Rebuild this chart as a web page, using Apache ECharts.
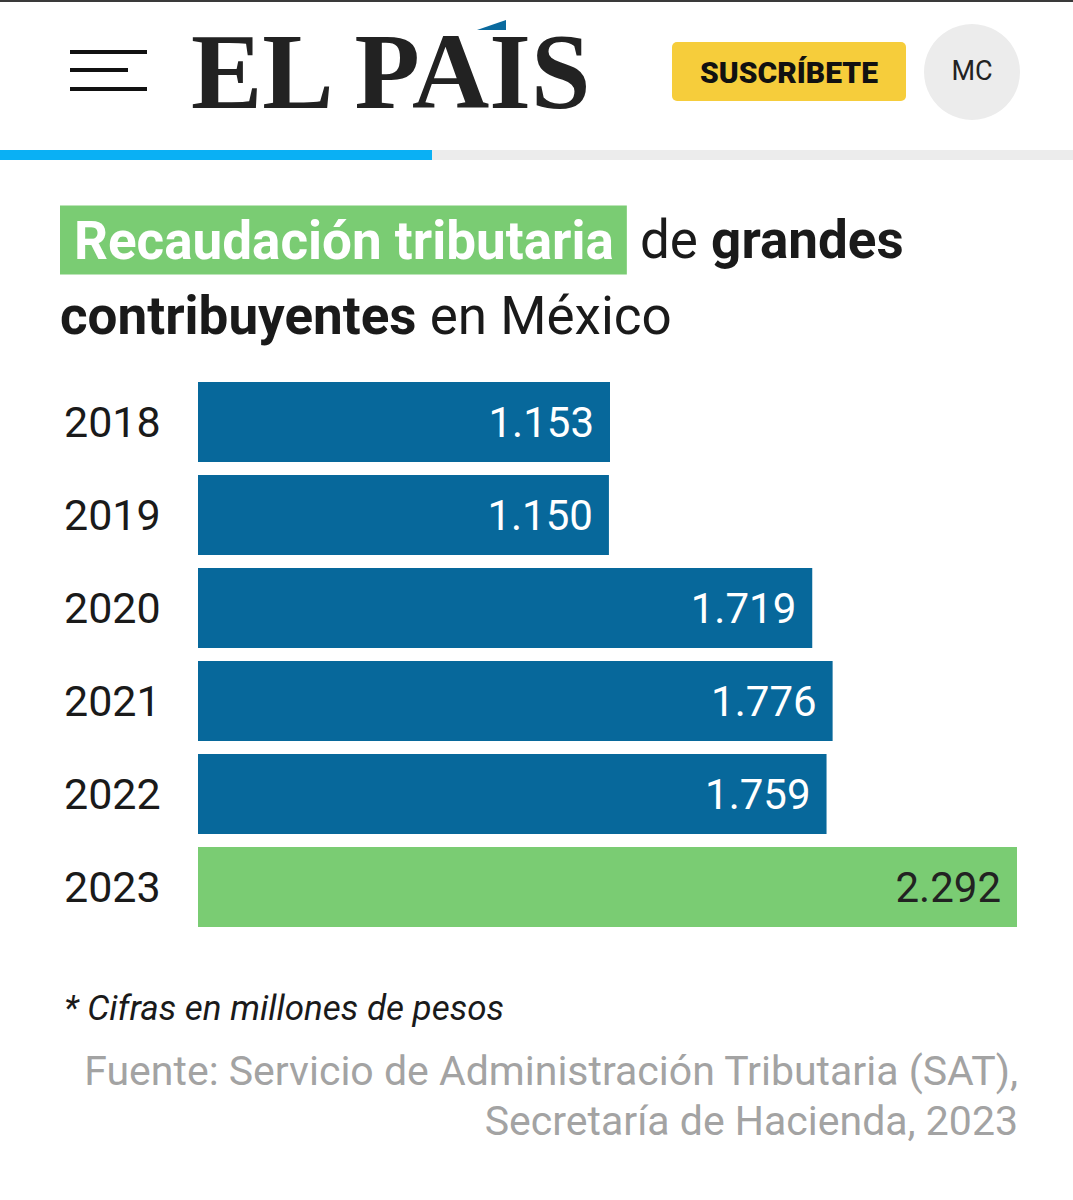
<!DOCTYPE html>
<html>
<head>
<meta charset="utf-8">
<script src="https://cdn.jsdelivr.net/npm/echarts@6/dist/echarts.min.js"></script>
<style>
html,body{margin:0;padding:0;background:#fff;}
#chart{width:1073px;height:1200px;}
</style>
</head>
<body>
<div id="chart"></div>
<script>
// Data
const years = ['2018', '2019', '2020', '2021', '2022', '2023'];
const values = [1153, 1150, 1719, 1776, 1759, 2292];
const valueLabels = ['1.153', '1.150', '1.719', '1.776', '1.759', '2.292'];

const BLUE = '#07689b';
const GREEN = '#7acc73';
const FONT = 'Roboto';

const chart = echarts.init(document.getElementById('chart'), null, {renderer: 'svg'});

const lastIdx = values.length - 1;
const seriesData = values.map((v, i) => ({
  value: v,
  itemStyle: {color: i === lastIdx ? GREEN : BLUE},
  label: {color: i === lastIdx ? '#222' : '#fff'}
}));

const option = {
  backgroundColor: '#fff',
  animation: false,
  grid: {left: 198, top: 375.5, width: 819, height: 558, containLabel: false},
  xAxis: {
    type: 'value', min: 0, max: 2292, show: false
  },
  yAxis: {
    type: 'category', data: years, inverse: true,
    axisLine: {show: false}, axisTick: {show: false}, splitLine: {show: false},
    axisLabel: {align: 'left', margin: 134, fontSize: 43, color: '#1a1a1a', fontFamily: FONT}
  },
  series: [{
    type: 'bar',
    data: seriesData,
    barWidth: 80,
    label: {
      show: true, position: 'insideRight', distance: 16,
      fontSize: 42, fontFamily: FONT,
      formatter: p => valueLabels[p.dataIndex]
    }
  }],
  graphic: [
    {type: 'rect', shape: {x: 0, y: 0, width: 1073, height: 2}, style: {fill: '#3a3a3a'}},
    {type: 'rect', shape: {x: 70, y: 50, width: 77, height: 4}, style: {fill: '#111'}},
    {type: 'rect', shape: {x: 70, y: 68, width: 58, height: 4}, style: {fill: '#111'}},
    {type: 'rect', shape: {x: 70, y: 87, width: 77, height: 4}, style: {fill: '#111'}},
    {type: 'text', x: 191, y: 72, style: {text: 'EL PAIS', fontFamily: 'Liberation Serif', fontWeight: 'bold', fontSize: 107, fill: '#222', verticalAlign: 'middle'}},
    {type: 'polygon', shape: {points: [[477, 30], [506, 20], [506, 30]]}, style: {fill: '#0a6a9e'}},
    {type: 'rect', shape: {x: 672, y: 42, width: 234, height: 59, r: 5}, style: {fill: '#f6cd3b'}},
    {type: 'text', x: 789, y: 72, style: {text: 'SUSCRÍBETE', fontFamily: FONT, fontWeight: 900, fontSize: 30, fill: '#111', align: 'center', verticalAlign: 'middle'}},
    {type: 'circle', shape: {cx: 972, cy: 72, r: 48}, style: {fill: '#ececec'}},
    {type: 'text', x: 972, y: 71, style: {text: 'MC', fontFamily: FONT, fontSize: 27, fill: '#222', align: 'center', verticalAlign: 'middle'}},
    {type: 'rect', shape: {x: 0, y: 150, width: 432, height: 10}, style: {fill: '#0ab0f4'}},
    {type: 'rect', shape: {x: 432, y: 150, width: 641, height: 10}, style: {fill: '#ececec'}},
    {type: 'text', x: 60, y: 240, style: {
      text: '{a|Recaudación tributaria}{b| de }{c|grandes}',
      verticalAlign: 'middle',
      rich: {
        a: {backgroundColor: GREEN, fill: '#fff', color: '#fff', fontFamily: FONT, fontWeight: 'bold', fontSize: 53, padding: [9, 13, 7, 14]},
        b: {fill: '#1a1a1a', color: '#1a1a1a', fontFamily: FONT, fontSize: 53},
        c: {fill: '#1a1a1a', color: '#1a1a1a', fontFamily: FONT, fontWeight: 'bold', fontSize: 53}
      }
    }},
    {type: 'text', x: 60, y: 316, style: {
      text: '{c|contribuyentes}{b| en México}',
      verticalAlign: 'middle',
      rich: {
        b: {fill: '#1a1a1a', color: '#1a1a1a', fontFamily: FONT, fontSize: 53},
        c: {fill: '#1a1a1a', color: '#1a1a1a', fontFamily: FONT, fontWeight: 'bold', fontSize: 53}
      }
    }},
    {type: 'text', x: 64, y: 1008, style: {text: '* Cifras en millones de pesos', fontFamily: FONT, fontStyle: 'italic', fontSize: 35, fill: '#1a1a1a', verticalAlign: 'middle'}},
    {type: 'text', x: 1018, y: 1071, style: {text: 'Fuente: Servicio de Administración Tributaria (SAT),', fontFamily: FONT, fontSize: 41, fill: '#a3a3a3', align: 'right', verticalAlign: 'middle'}},
    {type: 'text', x: 1018, y: 1121, style: {text: 'Secretaría de Hacienda, 2023', fontFamily: FONT, fontSize: 41, fill: '#a3a3a3', align: 'right', verticalAlign: 'middle'}}
  ]
};
chart.setOption(option);
</script>
</body>
</html>
